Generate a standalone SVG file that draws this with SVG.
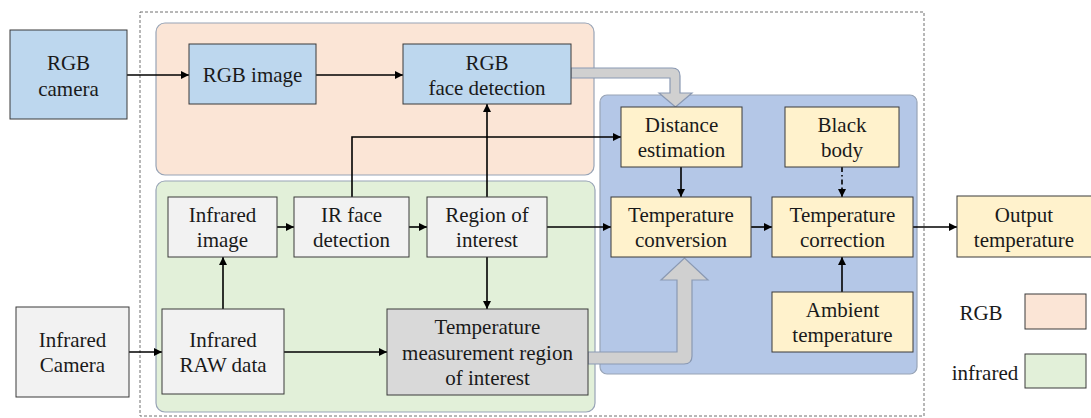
<svg xmlns="http://www.w3.org/2000/svg" width="1091" height="418" viewBox="0 0 1091 418">
  <style>
    text { font-size: 21px; fill: #1a1a1a; text-anchor: middle; }
    .node { stroke: #3a3a3a; stroke-width: 1; }
    .blue { fill: #bdd7ee; }
    .grey { fill: #f2f2f2; }
    .dark { fill: #d9d9d9; }
    .yel { fill: #fff2cc; }
    .region { stroke: #98a4b6; stroke-width: 1.2; }
    .wire { fill: none; stroke: #000; stroke-width: 1.6; }
    .fat { fill: #d0d0d0; stroke: #8a99b3; stroke-width: 1.2; }
  </style>
  <defs>
    <marker id="ah" viewBox="0 0 10 10" refX="10" refY="5" markerWidth="5" markerHeight="5" orient="auto" markerUnits="strokeWidth">
      <path d="M0,0 L10,5 L0,10 Z" fill="#000"/>
    </marker>
  </defs>

  <!-- system boundary -->
  <rect x="140" y="12" width="784" height="404" fill="none" stroke="#707070" stroke-width="1" stroke-dasharray="3,2"/>

  <!-- background regions -->
  <g id="region-rgb"><rect class="region" x="156" y="23" width="438" height="152" rx="9" fill="#fbe5d6"/></g>
  <g id="region-ir"><rect class="region" x="156" y="181" width="439" height="231" rx="9" fill="#e2f0d9"/></g>
  <g id="region-temp"><rect class="region" x="600" y="95" width="317" height="279" rx="7" fill="#b4c7e7"/></g>

  <!-- connectors -->
  <g id="connectors">
    <path class="fat" d="M571,68 H672 Q680,68 680,76 V93 H692 L675.5,107 L659,93 H670 V78 H571 Z"/>
    <path class="fat" d="M588,352 H677 V280 H661 L684.5,258 L708,280 H692 V356 Q692,364 684,364 H588 Z"/>
    <path class="wire" d="M127,75 H189" marker-end="url(#ah)"/>
    <path class="wire" d="M316,75 H403" marker-end="url(#ah)"/>
    <path class="wire" d="M352,197 V137 H621" marker-end="url(#ah)"/>
    <path class="wire" d="M487,197 V104" marker-end="url(#ah)"/>
    <path class="wire" d="M487,257 V309" marker-end="url(#ah)"/>
    <path class="wire" d="M681,167 V197" marker-end="url(#ah)"/>
    <path class="wire" d="M223,309 V257" marker-end="url(#ah)"/>
    <path class="wire" d="M277,227 H294" marker-end="url(#ah)"/>
    <path class="wire" d="M409,227 H427" marker-end="url(#ah)"/>
    <path class="wire" d="M547,227 H611" marker-end="url(#ah)"/>
    <path class="wire" d="M751,227 H772" marker-end="url(#ah)"/>
    <path class="wire" d="M913,227 H957" marker-end="url(#ah)"/>
    <path class="wire" d="M842,167 V197" stroke-dasharray="5,3,1.5,3" marker-end="url(#ah)"/>
    <path class="wire" d="M842,292 V257" marker-end="url(#ah)"/>
    <path class="wire" d="M129,352 H162" marker-end="url(#ah)"/>
    <path class="wire" d="M284,352 H387" marker-end="url(#ah)"/>
  </g>

  <g font-family="Liberation Serif, Times New Roman, DejaVu Serif, serif">
  <!-- nodes -->
  <g id="rgb-camera"><rect class="node blue" x="10" y="30" width="117" height="89"/>
    <text x="68.5" y="70">RGB</text><text x="68.5" y="96">camera</text></g>
  <g id="rgb-image"><rect class="node blue" x="189" y="44" width="127" height="60"/>
    <text x="252.5" y="82">RGB image</text></g>
  <g id="rgb-face-detection"><rect class="node blue" x="403" y="44" width="168" height="60"/>
    <text x="487" y="70">RGB</text><text x="487" y="95">face detection</text></g>

  <g id="infrared-image"><rect class="node grey" x="168" y="197" width="109" height="60"/>
    <text x="222.5" y="222">Infrared</text><text x="222.5" y="247">image</text></g>
  <g id="ir-face-detection"><rect class="node grey" x="294" y="197" width="115" height="60"/>
    <text x="351.5" y="222">IR face</text><text x="351.5" y="247">detection</text></g>
  <g id="region-of-interest"><rect class="node grey" x="427" y="197" width="120" height="60"/>
    <text x="487" y="222">Region of</text><text x="487" y="247">interest</text></g>

  <g id="infrared-camera"><rect class="node grey" x="16" y="307" width="113" height="90"/>
    <text x="72.5" y="347">Infrared</text><text x="72.5" y="372">Camera</text></g>
  <g id="infrared-raw"><rect class="node grey" x="162" y="309" width="122" height="85"/>
    <text x="223" y="347">Infrared</text><text x="223" y="372">RAW data</text></g>
  <g id="temp-measurement-roi"><rect class="node dark" x="387" y="309" width="201" height="86"/>
    <text x="487.5" y="334">Temperature</text><text x="487.5" y="360">measurement region</text><text x="487.5" y="385">of interest</text></g>

  <g id="distance-estimation"><rect class="node yel" x="621" y="107" width="121" height="60"/>
    <text x="681.5" y="132">Distance</text><text x="681.5" y="157">estimation</text></g>
  <g id="black-body"><rect class="node yel" x="785" y="107" width="114" height="60"/>
    <text x="842" y="132">Black</text><text x="842" y="157">body</text></g>
  <g id="temperature-conversion"><rect class="node yel" x="611" y="197" width="140" height="60"/>
    <text x="681" y="222">Temperature</text><text x="681" y="247">conversion</text></g>
  <g id="temperature-correction"><rect class="node yel" x="772" y="197" width="141" height="60"/>
    <text x="842.5" y="222">Temperature</text><text x="842.5" y="247">correction</text></g>
  <g id="ambient-temperature"><rect class="node yel" x="772" y="292" width="141" height="60"/>
    <text x="842.5" y="317">Ambient</text><text x="842.5" y="342">temperature</text></g>
  <g id="output-temperature"><rect class="node yel" x="957" y="196" width="140" height="61"/>
    <text x="1024" y="222">Output</text><text x="1024" y="247">temperature</text></g>

  <!-- legend -->
  <g id="legend">
    <text x="981" y="320">RGB</text>
    <rect x="1025" y="294" width="61" height="35" fill="#fbe5d6" stroke="#3a3a3a" stroke-width="1"/>
    <text x="985" y="380">infrared</text>
    <rect x="1025" y="354" width="61" height="34" fill="#e2f0d9" stroke="#3a3a3a" stroke-width="1"/>
  </g>
  </g>
</svg>
